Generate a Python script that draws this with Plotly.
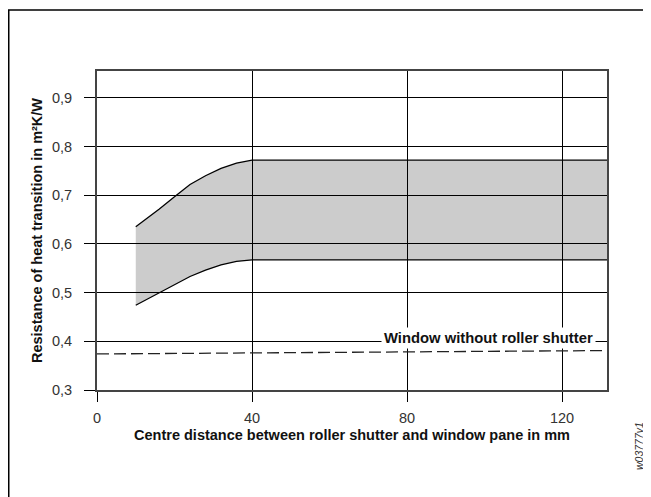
import plotly.graph_objects as go

# Data
upper_x = [10, 16, 20, 24, 28, 32, 36, 40, 131.6]
upper_y = [0.635, 0.671, 0.697, 0.722, 0.740, 0.755, 0.766, 0.772, 0.772]
lower_x = [10, 16, 20, 24, 28, 32, 36, 40, 131.6]
lower_y = [0.474, 0.500, 0.517, 0.533, 0.546, 0.557, 0.564, 0.567, 0.567]
window_x = [0, 131.6]
window_y = [0.374, 0.381]

x_ticks = [0, 40, 80, 120]
y_ticks = [0.3, 0.4, 0.5, 0.6, 0.7, 0.8, 0.9]
y_tick_labels = ["0,3", "0,4", "0,5", "0,6", "0,7", "0,8", "0,9"]

label_text = "Window without roller shutter"
x_title = "Centre distance between roller shutter and window pane in mm"
y_title = "Resistance of heat transition in m²K/W"
code_text = "w03777v1"

FONT = "Liberation Sans, Arial, sans-serif"

# page is offset by the 8px body margin; figure coordinates below account for it
L, R, T, B = 89, 599, 63, 382
W, H = 643, 489
PW, PH = R - L, B - T

fig = go.Figure()

band_x = upper_x + lower_x[::-1]
band_y = upper_y + lower_y[::-1]
fig.add_trace(go.Scatter(
    x=band_x, y=band_y, mode="lines", fill="toself",
    fillcolor="rgba(0,0,0,0.2)", line=dict(width=0), hoverinfo="skip",
    showlegend=False))
fig.add_trace(go.Scatter(x=upper_x, y=upper_y, mode="lines",
                         line=dict(color="black", width=1.3), showlegend=False))
fig.add_trace(go.Scatter(x=lower_x, y=lower_y, mode="lines",
                         line=dict(color="black", width=1.3), showlegend=False))
fig.add_trace(go.Scatter(x=window_x, y=window_y, mode="lines",
                         line=dict(color="#222", width=1.3, dash="12px,5px"),
                         showlegend=False))

fig.add_annotation(x=100.9, y=0.407, xref="x", yref="y", text="<b>" + label_text + "</b>",
                   showarrow=False, bgcolor="white", borderpad=2,
                   font=dict(family=FONT, size=14.8, color="#111"))

fig.add_annotation(x=(631 - L) / PW, y=(B - 438) / PH, xref="paper", yref="paper",
                   xanchor="center", yanchor="middle",
                   text="<i>" + code_text + "</i>", textangle=-90, showarrow=False,
                   font=dict(family=FONT, size=10.5, color="#333"))

# outer frame (left and top edges)
fig.add_shape(type="rect", xref="paper", yref="paper",
              x0=(0.75 - L) / PW, x1=(W + 20 - L) / PW,
              y0=(B - H - 20) / PH, y1=1 + (T - 2) / PH,
              line=dict(color="black", width=1.5), fillcolor="rgba(0,0,0,0)")

fig.update_layout(
    width=W, height=H,
    margin=dict(l=L, r=W - R, t=T, b=H - B, pad=0),
    paper_bgcolor="white", plot_bgcolor="white",
    font=dict(family=FONT, size=14.5, color="#333"),
    xaxis=dict(range=[0, 131.6], tickvals=x_ticks, ticks="outside", ticklen=10,
               tickcolor="black", tickwidth=1, showgrid=True, gridcolor="black",
               gridwidth=1, zeroline=False, showline=True, linecolor="#444",
               linewidth=2, mirror=True, ticklabelstandoff=4,
               tickfont=dict(family=FONT, size=14.5, color="#333"),
               title=dict(text="<b>" + x_title + "</b>", standoff=4,
                          font=dict(family=FONT, size=14.5, color="#111"))),
    yaxis=dict(range=[0.3, 0.955], tickvals=y_ticks, ticktext=y_tick_labels,
               ticks="outside", ticklen=11, tickcolor="black", tickwidth=1,
               showgrid=True, gridcolor="black", gridwidth=1, zeroline=False,
               showline=True, linecolor="#444", linewidth=2, mirror=True,
               ticklabelstandoff=9,
               tickfont=dict(family=FONT, size=14.5, color="#333"),
               title=dict(text="<b>" + y_title + "</b>", standoff=6,
                          font=dict(family=FONT, size=14.5, color="#111"))),
)

fig.write_html("out.html")
